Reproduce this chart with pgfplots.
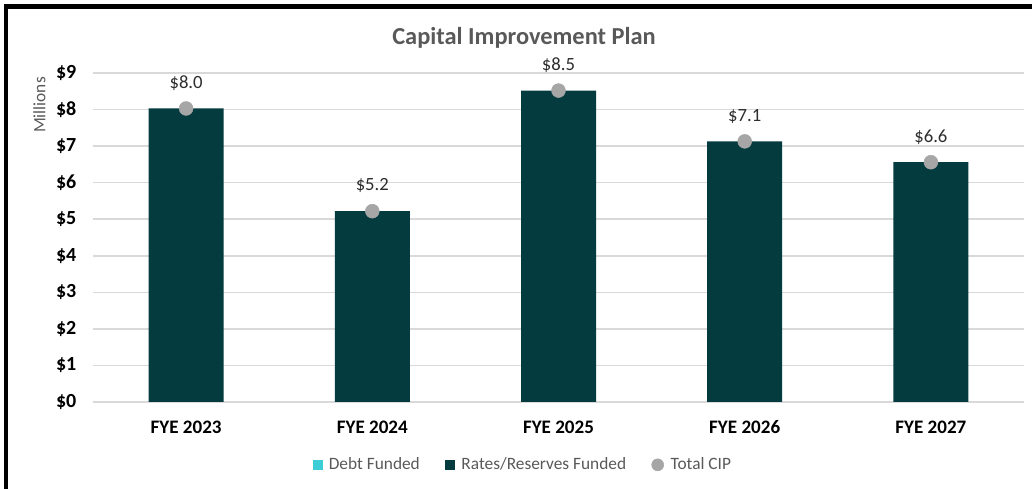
\documentclass[border=0pt]{standalone}
\usepackage{pgfplots}
\pgfplotsset{compat=1.18}
\usepackage{fontspec}
\setmainfont{Carlito}
\definecolor{barc}{RGB}{3,59,62}
\definecolor{debtc}{RGB}{60,205,214}
\definecolor{cipc}{RGB}{166,166,166}
\definecolor{gridc}{RGB}{217,217,217}
\definecolor{txtc}{RGB}{89,89,89}
\definecolor{lblc}{RGB}{45,45,45}
\begin{document}
\begin{tikzpicture}
\begin{axis}[
  at={(69.75pt,65.25pt)}, anchor=south west,
  scale only axis, width=698.25pt, height=246.75pt,
  xmin=-0.5, xmax=4.5, ymin=0, ymax=9,
  xtick={0,1,2,3,4},
  xticklabels={FYE 2023,FYE 2024,FYE 2025,FYE 2026,FYE 2027},
  ytick={0,1,2,3,4,5,6,7,8,9},
  yticklabels={\$0,\$1,\$2,\$3,\$4,\$5,\$6,\$7,\$8,\$9},
  xticklabel style={font=\fontsize{14.3pt}{16pt}\selectfont\bfseries, text=black, anchor=base, yshift=-23.75pt},
  yticklabel style={font=\fontsize{15pt}{17pt}\selectfont\bfseries, text=black, xshift=-9pt},
  axis line style={draw=none},
  major tick style={draw=none},
  ymajorgrids, xmajorgrids=false, grid style={draw=gridc, line width=1.1pt},
  clip=false,
  /pgf/number format/assume math mode=true,
  legend style={at={(0.462,-0.191)}, anchor=center, draw=none, fill=none,
    font=\fontsize{13pt}{15pt}\selectfont\color{txtc},
    legend columns=3,
    /tikz/every odd column/.append style={column sep=3pt},
    /tikz/every even column/.append style={column sep=17pt}},
  legend cell align=left,
]
\addplot[ybar, bar width=56.25pt, fill=barc, draw=none, forget plot]
  coordinates {(0,8.03) (1,5.22) (2,8.52) (3,7.13) (4,6.56)};
\addplot[draw=none, color=cipc, only marks, mark=*, mark size=5.2pt, mark options={fill=cipc, draw=none}, forget plot,
  point meta=explicit,
  nodes near coords={\$\pgfmathprintnumber[fixed,fixed zerofill,precision=1]{\pgfplotspointmeta}},
  every node near coord/.style={anchor=center, yshift=19pt, font=\fontsize{14pt}{16pt}\selectfont, text=lblc}]
  coordinates {(0,8.03) [8.03] (1,5.22) [5.22] (2,8.52) [8.52] (3,7.13) [7.13] (4,6.56) [6.56]};
\addlegendimage{legend image code/.code={\fill[debtc] (0pt,-3.4pt) rectangle (6.8pt,3.4pt);}}
\addlegendentry{Debt Funded}
\addlegendimage{legend image code/.code={\fill[barc] (0pt,-3.4pt) rectangle (6.8pt,3.4pt);}}
\addlegendentry{Rates/Reserves Funded}
\addlegendimage{legend image code/.code={\fill[cipc] (4.5pt,0pt) circle (4.5pt);}}
\addlegendentry{Total CIP}
\end{axis}
\node[font=\fontsize{18.3pt}{20pt}\selectfont\bfseries, text=txtc] at (393pt,338.25pt) {Capital Improvement Plan};
\node[rotate=90, font=\fontsize{13pt}{15pt}\selectfont, text=txtc] at (29.5pt,288pt) {Millions};
\draw[line width=3.4pt] (4.5pt,0pt) -- (4.5pt,361.9pt) -- (774pt,361.9pt);
\pgfresetboundingbox
\path[use as bounding box] (0,0) rectangle (774pt,366.75pt);
\end{tikzpicture}
\end{document}
